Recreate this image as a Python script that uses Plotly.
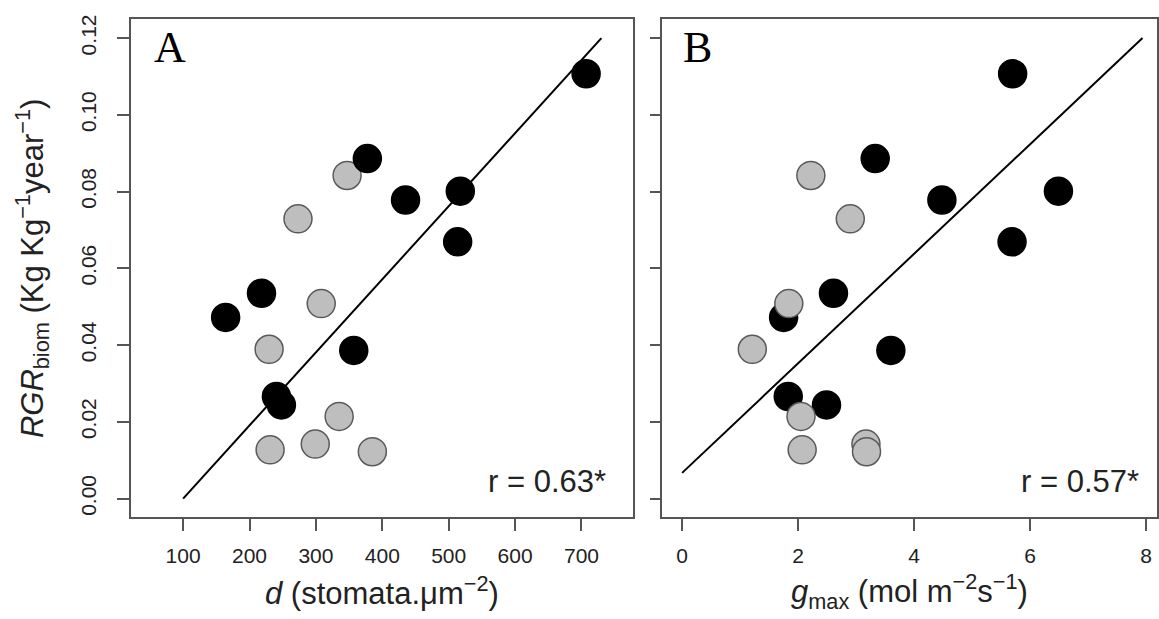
import plotly.graph_objects as go

W, H = 1159, 619

# ---------------- data ----------------
# Black species (RGR, stomatal density d, gmax)
black_rgr = [0.1107, 0.0886, 0.0801, 0.0778, 0.0669, 0.0535, 0.0472, 0.0386, 0.0266, 0.0244]
black_d = [707, 377.5, 517.5, 435, 513.5, 218, 164, 357, 240.5, 248]
black_gmax = [5.70, 3.33, 6.49, 4.48, 5.69, 2.61, 1.75, 3.60, 1.83, 2.49]

# Grey species
grey_rgr = [0.0842, 0.0729, 0.0508, 0.0389, 0.0214, 0.0142, 0.0127, 0.0122]
grey_d = [347, 273, 308, 229.5, 335, 299, 231, 385]
grey_gmax = [2.22, 2.90, 1.84, 1.21, 2.05, 3.17, 2.07, 3.18]

# Fitted lines (end points)
fitA_x = [100, 730]
fitA_y = [0.0, 0.12]
fitB_x = [0.0, 7.94]
fitB_y = [0.0067, 0.12]

xticksA = [100, 200, 300, 400, 500, 600, 700]
xticksB = [0, 2, 4, 6, 8]
yticks = [0.00, 0.02, 0.04, 0.06, 0.08, 0.10, 0.12]
ytick_text = ["0.00", "0.02", "0.04", "0.06", "0.08", "0.10", "0.12"]

panel_labels = ["A", "B"]
r_labels = ["r = 0.63*", "r = 0.57*"]

# ---------------- styles ----------------
SANS = "Liberation Sans, Arial, Helvetica, sans-serif"
SERIF = "Liberation Serif, Times New Roman, serif"
BOX = "#555555"
GREY_FILL = "#bebebe"
GREY_LINE = "#5a5a5a"
MS = 28

fig = go.Figure()

# Panel A: line, grey, black
fig.add_trace(go.Scatter(x=fitA_x, y=fitA_y, mode="lines",
                         line=dict(color="black", width=2),
                         xaxis="x", yaxis="y", showlegend=False))
fig.add_trace(go.Scatter(x=grey_d, y=grey_rgr, mode="markers",
                         marker=dict(size=MS, color=GREY_FILL, line=dict(color=GREY_LINE, width=1.5)),
                         xaxis="x", yaxis="y", showlegend=False))
fig.add_trace(go.Scatter(x=black_d, y=black_rgr, mode="markers",
                         marker=dict(size=MS, color="black", line=dict(color="black", width=1.5)),
                         xaxis="x", yaxis="y", showlegend=False))

# Panel B: line, black, grey
fig.add_trace(go.Scatter(x=fitB_x, y=fitB_y, mode="lines",
                         line=dict(color="black", width=2),
                         xaxis="x2", yaxis="y2", showlegend=False))
fig.add_trace(go.Scatter(x=black_gmax, y=black_rgr, mode="markers",
                         marker=dict(size=MS, color="black", line=dict(color="black", width=1.5)),
                         xaxis="x2", yaxis="y2", showlegend=False))
fig.add_trace(go.Scatter(x=grey_gmax, y=grey_rgr, mode="markers",
                         marker=dict(size=MS, color=GREY_FILL, line=dict(color=GREY_LINE, width=1.5)),
                         xaxis="x2", yaxis="y2", showlegend=False))

# ---------------- geometry ----------------
ax_top, ax_bot = 15, 516.7
yd = [1 - ax_bot / H, 1 - ax_top / H]
xdA = [131 / W, 634 / W]
xdB = [662.7 / W, 1158 / W]
yrange = [-0.0049, 0.125]

common_axis = dict(showline=True, mirror=True, linecolor=BOX, linewidth=1.5,
                   ticks="outside", tickcolor=BOX, tickwidth=1.5,
                   showgrid=False, zeroline=False,
                   tickfont=dict(family=SANS, size=21, color="#222222"))

fig.update_layout(
    width=W, height=H,
    margin=dict(l=0, r=0, t=0, b=0),
    paper_bgcolor="white", plot_bgcolor="white",
    xaxis=dict(common_axis, domain=xdA, range=[21.3, 778.3], anchor="y",
               tickvals=xticksA, ticklen=12, ticklabelstandoff=7),
    yaxis=dict(common_axis, domain=yd, range=yrange, anchor="x",
               tickvals=yticks, ticktext=ytick_text, tickangle=-90,
               ticklen=12, ticklabelstandoff=13),
    xaxis2=dict(common_axis, domain=xdB, range=[-0.345, 8.19], anchor="y2",
                tickvals=xticksB, ticklen=12, ticklabelstandoff=7),
    yaxis2=dict(common_axis, domain=yd, range=yrange, anchor="x2",
                tickvals=yticks, showticklabels=False, ticklen=10),
)

ann = []
# Panel letters
ann.append(dict(text=panel_labels[0], x=152 / W, y=1 - 43.5 / H, xref="paper", yref="paper",
                xanchor="left", yanchor="middle", showarrow=False,
                font=dict(family=SERIF, size=44, color="black")))
ann.append(dict(text=panel_labels[1], x=682 / W, y=1 - 43.5 / H, xref="paper", yref="paper",
                xanchor="left", yanchor="middle", showarrow=False,
                font=dict(family=SERIF, size=44, color="black")))
# r labels
ann.append(dict(text=r_labels[0], x=609 / W, y=1 - 481 / H, xref="paper", yref="paper",
                xanchor="right", yanchor="middle", showarrow=False,
                font=dict(family=SANS, size=31, color="#222222")))
ann.append(dict(text=r_labels[1], x=1142 / W, y=1 - 481 / H, xref="paper", yref="paper",
                xanchor="right", yanchor="middle", showarrow=False,
                font=dict(family=SANS, size=31, color="#222222")))
# Axis titles
ann.append(dict(text="<i>d</i> (stomata.\u03bcm<sup>\u22122</sup>)",
                x=(xdA[0] + xdA[1]) / 2, y=1 - 591 / H, xref="paper", yref="paper",
                xanchor="center", yanchor="middle", showarrow=False,
                font=dict(family=SANS, size=31, color="#222222")))
ann.append(dict(text="<i>g</i><sub>max</sub> (mol m<sup>\u22122</sup>s<sup>\u22121</sup>)",
                x=(xdB[0] + xdB[1]) / 2, y=1 - 591 / H, xref="paper", yref="paper",
                xanchor="center", yanchor="middle", showarrow=False,
                font=dict(family=SANS, size=31, color="#222222")))
ann.append(dict(text="<i>RGR</i><sub>biom</sub> (Kg Kg<sup>\u22121</sup>year<sup>\u22121</sup>)",
                x=32 / W, y=(yd[0] + yd[1]) / 2, xref="paper", yref="paper",
                xanchor="center", yanchor="middle", textangle=-90, showarrow=False,
                font=dict(family=SANS, size=31, color="#222222")))

fig.update_layout(annotations=ann)

fig.write_html("out.html")
